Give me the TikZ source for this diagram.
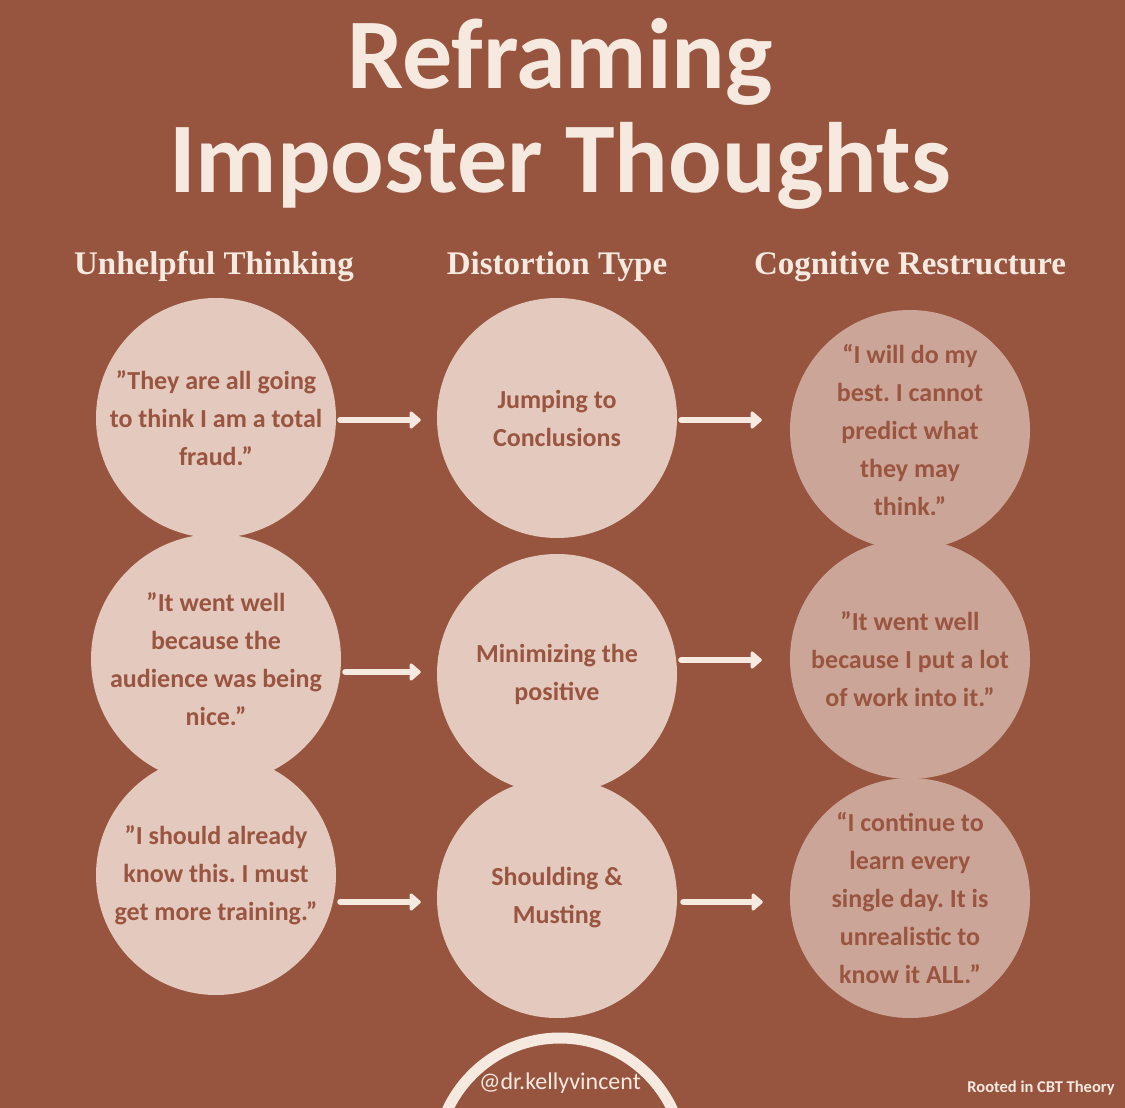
\documentclass[tikz,border=0pt]{standalone}
\usepackage{fontspec}
\setmainfont{Carlito}
\newfontfamily\hdfont{Liberation Serif}
\usetikzlibrary{arrows.meta}
\definecolor{bg}{HTML}{97553F}
\definecolor{cream}{HTML}{F6E9E0}
\definecolor{cA}{HTML}{E3C9BE}
\definecolor{cB}{HTML}{CBA597}
\definecolor{txt}{HTML}{9A5541}
\newcommand{\qq}{\symbol{34}}
\frenchspacing
\begin{document}
\begin{tikzpicture}[x=1pt,y=-1pt,
  bub/.style={circle,minimum size=240pt,inner sep=0pt,text=txt,font=\bfseries\fontsize{26}{38}\selectfont,align=center},
  arr/.style={draw=cream,line width=6pt,line cap=round,-{Triangle[length=12pt,width=20pt,round]}},
  hd/.style={text=cream,font=\hdfont\bfseries\fontsize{33}{38}\selectfont}]
\useasboundingbox (0,0) rectangle (1125,1108);
\fill[bg] (0,0) rectangle (1125,1108);
\node[text=cream,font=\bfseries\fontsize{100}{104}\selectfont,align=center] (title) at (560,114) {Reframing\\Imposter Thoughts};
\node[hd] (h1) at (214,267) {Unhelpful Thinking};
\node[hd] (h2) at (557,267) {Distortion Type};
\node[hd] (h3) at (910,267) {Cognitive Restructure};
\node[bub,fill=cA] (a1) at (216,418) {\qq They are all going\\to think I am a total\\fraud.\qq};
\node[bub,fill=cA] (b1) at (557,418) {Jumping to\\Conclusions};
\node[bub,fill=cB] (c1) at (910,430) {“I will do my\\best. I cannot\\predict what\\they may\\think.”};
\node[bub,fill=cA] (a2) at (216,659) {\qq It went well\\because the\\audience was being\\nice.\qq};
\node[bub,fill=cA] (b2) at (557,674) {Minimizing the\\positive};
\node[bub,fill=cB] (c2) at (910,659) {\qq It went well\\because I put a lot\\of work into it.\qq};
\node[bub,fill=cA] (a3) at (216,875) {\qq I should already\\know this. I must\\get more training.\qq};
\node[bub,fill=cA] (b3) at (557,898) {Shoulding \&\\Musting};
\node[bub,fill=cB] (c3) at (910,898) {“I continue to\\learn every\\single day. It is\\unrealistic to\\know it ALL.”};
\foreach \r/\y in {1/420,2/672,3/902}{
  \coordinate (p\r) at (0,\y);
}
\foreach \r in {1,2,3}{
  \draw[arr] (a\r.east |- p\r) ++(4,0) -- ([xshift=-16pt]b\r.west |- p\r);
}
\draw[arr] ([xshift=4pt]b1.east |- 0,420) -- ([xshift=-28pt]c1.west |- 0,420);
\draw[arr] ([xshift=4pt]b2.east |- 0,660) -- ([xshift=-28pt]c2.west |- 0,660);
\draw[arr] ([xshift=6pt]b3.east |- 0,902) -- ([xshift=-27pt]c3.west |- 0,902);
\begin{scope}
\clip (0,0) rectangle (1125,1108);
\draw[cream,line width=11pt] (560,1162) circle (124);
\end{scope}
\node[text=cream,font=\fontsize{24}{26}\selectfont] (handle) at (560,1083) {@dr.kellyvincent};
\node[text=cream,font=\bfseries\fontsize{16.5}{18}\selectfont] (root) at (1041,1088) {Rooted in CBT Theory};
\end{tikzpicture}
\end{document}
